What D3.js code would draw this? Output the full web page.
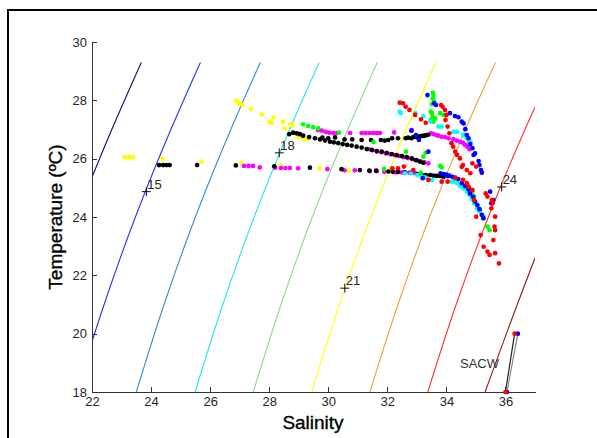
<!DOCTYPE html>
<html><head><meta charset="utf-8">
<script src="https://cdn.jsdelivr.net/npm/d3@7"></script>
<style>html,body{margin:0;padding:0;background:#fff;}svg{display:block;}</style>
</head><body>
<svg id="c" width="597" height="438"></svg>
<script>
// ---- data ----
const xTicks = [22,24,26,28,30,32,34,36];
const yTicks = [18,20,22,24,26,28,30];
const isoTemps = [18,21,24,27,29.3];
const isoColors = ["#0c0c70","#2e2ef5","#3a8cc8","#22e6f2","#8fd98f","#ffff10","#f0a040","#ff3030","#8a1a1a"];
const isoSal = [
  [19.47,20.41,21.47,22.67,23.67],
  [21.47,22.41,23.47,24.67,25.67],
  [23.50,24.44,25.50,26.70,27.70],
  [25.49,26.43,27.49,28.69,29.69],
  [27.46,28.40,29.46,30.66,31.66],
  [29.44,30.38,31.44,32.64,33.64],
  [31.41,32.36,33.43,34.64,35.66],
  [33.37,34.33,35.42,36.66,37.70],
  [35.31,36.40,37.55,38.80,39.80]
];
const isoLabels = [
  {t:"15", s:23.84, T:24.87},
  {t:"18", s:28.34, T:26.20},
  {t:"21", s:30.56, T:21.56},
  {t:"24", s:35.87, T:25.03}
];
const yellow = [[23.11,26.05],[23.26,26.05],[23.39,26.05],[24.39,25.99],[25.71,25.90],[27.06,25.85],
 [26.87,27.99],[26.95,27.93],[27.02,27.88],[27.10,27.84],[27.38,27.70],[27.75,27.52],[28.00,27.27],[28.08,27.23],
 [28.14,27.42],[28.47,27.27],[28.52,27.04],[28.72,27.18],[28.79,27.14],[28.84,26.87],[28.98,26.75],[29.10,26.73],
 [29.21,26.69],[29.29,26.67],[28.39,25.78],[29.70,25.66],[30.69,25.59]];
const magenta = [[29.65,26.98],[29.78,26.96],[29.91,26.92],[30.03,26.89],[30.17,26.88],[30.30,26.88],[30.74,26.88],
 [31.13,26.88],[31.26,26.88],[31.39,26.88],[31.52,26.88],[31.64,26.88],[31.75,26.88],[32.23,26.90],[32.83,26.98],
 [33.47,26.87],[33.56,26.85],[33.65,26.81],[33.73,26.79],[33.84,26.75],[33.96,26.74],[34.07,26.70],[34.24,26.67],
 [34.35,26.62],[34.46,26.58],[34.56,26.55],[34.63,26.47],[34.71,26.41],[34.78,26.32],
 [31.35,26.33],[31.50,26.29],[31.65,26.25],[31.80,26.22],[31.95,26.18],[32.10,26.15],[32.25,26.12],[32.40,26.09],
 [32.55,26.05],[32.70,26.02],[32.85,25.98],[33.00,25.95],[33.12,25.91],[33.25,25.88],[33.39,25.84],
 [27.15,25.75],[27.30,25.75],[27.45,25.75],[27.68,25.70],[28.20,25.69],[28.40,25.68],[28.55,25.68],[28.70,25.68],
 [28.98,25.67],[29.97,25.64],[30.55,25.60],[30.90,25.60],[31.41,25.57],[31.64,25.57],[31.90,25.55],
 [32.30,25.53],[32.50,25.53],[32.75,25.52],[32.95,25.50]];
const black = [[24.27,25.78],[24.41,25.78],[24.52,25.78],[24.63,25.78],[25.56,25.78],[26.87,25.77],[28.17,25.74],
 [29.38,25.69],[30.45,25.64],[31.07,25.61],[31.39,25.59],[31.62,25.59],[32.04,25.56],[32.19,25.55],[32.37,25.55],
 [32.60,25.53],[32.83,25.52],[33.02,25.47],[33.17,25.44],[33.30,25.44],[33.45,25.44],[33.56,25.42],[33.67,25.41],
 [33.79,25.41],[33.90,25.38],
 [28.68,26.84],[28.81,26.89],[28.93,26.87],[29.04,26.84],[29.15,26.79],[29.35,26.74],[29.55,26.70],[29.72,26.66],
 [29.89,26.62],[30.06,26.58],[30.19,26.56],[30.34,26.53],[30.49,26.50],[30.64,26.47],[30.79,26.45],[30.96,26.41],
 [31.13,26.38],[31.30,26.33],[31.47,26.30],[31.64,26.26],[31.81,26.24],[31.98,26.20],[32.15,26.16],[32.32,26.12],
 [32.49,26.09],[32.66,26.05],[32.83,26.01],[32.97,25.95],[33.10,25.90],[33.22,25.86],
 [29.80,26.72],[30.00,26.70],[30.23,26.73],[30.55,26.66],[30.81,26.66],[31.13,26.64],[31.45,26.64],[31.78,26.64],
 [31.91,26.62],[32.03,26.64],[32.16,26.70],[32.36,26.70],[32.62,26.70],[32.70,26.72],[32.81,26.70],[32.88,26.74],
 [32.94,26.75],[33.00,26.74],[33.07,26.75],[33.12,26.77],[33.20,26.78],[33.26,26.79],[33.33,26.81],[33.38,26.82]];
const green = [[29.15,27.18],[29.32,27.12],[29.49,27.08],[29.66,27.04],[30.36,26.89],[31.53,26.57],[32.63,26.24],
 [33.22,26.07],[33.30,26.20],[31.89,25.64],[33.13,25.52],
 [33.54,28.26],[33.56,28.18],[33.54,28.07],[33.58,27.99],[33.51,27.87],[33.47,27.61],[33.51,27.56],[33.54,27.44],
 [33.62,27.38],[33.47,27.33],[33.56,27.27],[33.79,27.56],[33.90,27.50],
 [33.79,25.75],[33.84,25.70],[34.69,25.04],[34.78,24.98],[34.88,24.87],[34.94,24.70],[35.14,24.24],[35.26,23.96],
 [35.39,23.67],[35.46,23.55]];
const cyan = [[32.42,27.61],[32.45,27.56],[32.95,27.56],[33.22,27.46],[33.46,27.27],[33.73,27.10],[33.84,27.10],
 [34.24,26.92],[34.36,26.92],[34.56,26.81],[34.63,26.81],[34.69,26.70],[34.75,26.58],[34.81,26.58],
 [32.60,25.50],[32.81,25.50],[33.01,25.44],[33.17,25.38],[33.28,25.36],[33.52,25.27],[33.84,25.21],[34.17,25.21],
 [34.24,25.21],[34.35,25.16],[34.46,25.06],[34.58,24.98],[34.69,24.87],[34.78,24.76],[34.86,24.61],[34.94,24.47],
 [35.03,24.30],[35.12,24.18],[35.20,24.07],[35.26,24.01]];
const blue = [[33.36,28.18],[33.59,27.90],[33.65,27.84],[34.12,27.56],[34.29,27.46],[34.41,27.42],[34.52,27.27],
 [34.58,27.21],[34.64,27.01],[34.69,26.81],[34.75,26.70],[34.81,26.50],[34.88,26.36],[34.92,26.13],[34.97,26.18],
 [35.09,25.92],[35.12,25.78],[35.17,25.61],[35.20,25.52],[35.48,24.87],[35.59,24.58],[35.52,24.47],
 [33.80,25.50],[33.90,25.47],[34.00,25.45],[34.05,25.40],[34.10,25.42],[34.20,25.38],[34.30,25.35],[34.40,25.30],
 [34.52,25.16],[34.63,25.06],[34.75,24.95],[34.80,24.81],[34.90,24.70],[34.97,24.53],[35.05,24.41],[35.12,24.27],
 [35.20,24.07],[35.25,23.96],
 [32.81,26.96],[32.97,26.81],[33.07,26.64],[33.39,26.24],[33.20,25.33]];
const red = [[32.42,27.92],[32.53,27.90],[32.62,27.78],[32.75,27.67],[32.94,27.50],[33.14,27.35],[33.30,27.23],
 [33.82,27.84],[33.87,27.78],[33.95,27.67],[34.00,27.50],[33.97,27.33],[34.04,27.10],[34.10,26.87],[34.17,26.53],
 [34.23,26.41],[34.30,26.24],[34.36,26.13],[34.46,26.01],[34.56,25.78],[34.69,25.61],[34.81,25.50],
 [32.17,25.67],[32.36,25.67],[32.56,25.73],[32.88,25.61],[33.39,25.27],[33.84,25.21],[34.04,25.21],[34.30,25.33],
 [34.56,25.27],[34.69,25.16],[34.75,25.04],[34.88,24.93],[34.94,24.58],[35.01,24.01],[34.52,25.72],[34.88,25.84],
 [35.01,25.73],
 [35.33,24.81],[35.39,24.70],[35.54,24.58],[35.57,24.49],[35.52,24.30],[35.65,24.01],[35.63,23.67],[35.65,23.55],
 [35.16,23.38],[35.26,22.98],[35.39,22.81],[35.46,22.70],[35.59,23.21],[35.65,22.76],[35.78,22.41]];
const sacwLines = [ [[36.00,18.0],[36.31,20.0]], [[36.05,18.0],[36.42,20.0]] ];
const sacwLineColors = ["#222","#888"];
const sacwBlue = [[36.05,18.0],[36.42,20.0]];
const sacwRed = [[36.00,18.0],[36.31,20.0]];
const sacwLabel = {t:"SACW", s:34.46, T:18.82};

// ---- drawing ----
const FONT = "'Liberation Sans',Arial,sans-serif";
const svg = d3.select("#c");
const x = d3.scaleLinear().domain([22,37]).range([92,535]);
const y = d3.scaleLinear().domain([18,30]).range([392,42]);

svg.append("rect").attr("x",8).attr("y",10).attr("width",600).attr("height",440)
  .attr("fill","none").attr("stroke","#000").attr("stroke-width",2);

svg.append("clipPath").attr("id","clip").append("rect")
  .attr("x",92).attr("y",42).attr("width",443).attr("height",350);

const line = d3.line().x(d=>x(d[0])).y(d=>y(d[1])).curve(d3.curveMonotoneY);
const gIso = svg.append("g").attr("clip-path","url(#clip)");
isoSal.forEach((arr,i)=>{
  const pts = arr.map((s,j)=>[s,isoTemps[j]]);
  gIso.append("path").attr("d",line(pts)).attr("fill","none")
    .attr("stroke",isoColors[i]).attr("stroke-width",1.1);
});

// axes
const ax = svg.append("g").attr("transform","translate(0,392)")
  .call(d3.axisBottom(x).tickValues(xTicks).tickSizeInner(-5).tickSizeOuter(0).tickPadding(5));
const ay = svg.append("g").attr("transform","translate(92,0)")
  .call(d3.axisLeft(y).tickValues(yTicks).tickSizeInner(-5).tickSizeOuter(0).tickPadding(5));
[ax,ay].forEach(g=>{
  g.selectAll("path,line").attr("stroke","#333").attr("shape-rendering","crispEdges");
  g.selectAll("text").attr("fill","#262626").style("font-family",FONT).style("font-size","13px");
});

// isopycnal labels
const gl = svg.append("g");
isoLabels.forEach(l=>{
  const px = x(l.s), py = y(l.T);
  gl.append("path").attr("d",`M${px-4.5},${py}H${px+4.5}M${px},${py-4.5}V${py+4.5}`)
    .attr("stroke","#111").attr("stroke-width",1);
  gl.append("text").attr("x",px+1).attr("y",py-3).text(l.t)
    .attr("fill","#262626").style("font-family",FONT).style("font-size","13px");
});

// SACW
sacwLines.forEach((pts,i)=>{
  svg.append("path").attr("d",d3.line().x(d=>x(d[0])).y(d=>y(d[1]))(pts))
    .attr("fill","none").attr("stroke",sacwLineColors[i]).attr("stroke-width",1.2);
});
svg.append("text").attr("x",x(sacwLabel.s)).attr("y",y(sacwLabel.T)).text(sacwLabel.t)
  .attr("fill","#333").style("font-family",FONT).style("font-size","13px");

// data dots
const series = [[yellow,"#ffff00"],[magenta,"#ff00ff"],[black,"#000000"],[green,"#00ff00"],[cyan,"#00ffff"],[blue,"#0000ff"],[red,"#ff0000"],[sacwBlue,"#0000ff"],[sacwRed,"#ff0000"]];
series.forEach(([data,col])=>{
  svg.append("g").selectAll("circle").data(data).join("circle")
    .attr("cx",d=>x(d[0])).attr("cy",d=>y(d[1])).attr("r",2.35).attr("fill",col);
});

// axis titles
svg.append("text").attr("x",313).attr("y",429).attr("text-anchor","middle").text("Salinity")
  .attr("fill","#000").attr("stroke","#000").attr("stroke-width",0.35)
  .style("font-family",FONT).style("font-size","19px");
svg.append("text").attr("transform","translate(62,217) rotate(-90)").attr("text-anchor","middle")
  .text("Temperature (ºC)")
  .attr("fill","#000").attr("stroke","#000").attr("stroke-width",0.35)
  .style("font-family",FONT).style("font-size","19px");
</script>
</body></html>
